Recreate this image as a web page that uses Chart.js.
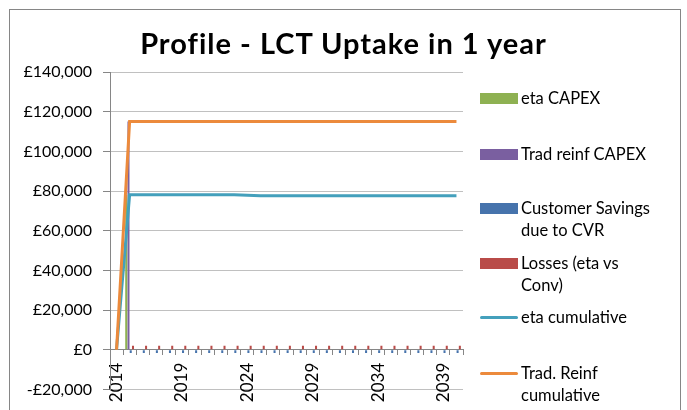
<!DOCTYPE html>
<html><head><meta charset="utf-8">
<script src="https://cdn.jsdelivr.net/npm/chart.js@4.4.1/dist/chart.umd.min.js"></script>
<style>
html,body{margin:0;padding:0;background:#fff;}
#wrap{position:relative;width:687px;height:410px;overflow:hidden;font-family:Lato,"Open Sans",sans-serif;color:#000;}
#frame{position:absolute;left:9px;top:9px;width:672px;height:430px;border:1px solid #868686;box-sizing:border-box;}
#title{position:absolute;left:0;width:687px;top:25px;text-align:center;font-weight:bold;font-size:29px;letter-spacing:1px;line-height:36px;white-space:nowrap;}
#c{position:absolute;left:0;top:0;}
.lg{position:absolute;left:480px;font-size:16.5px;line-height:22px;white-space:nowrap;}
.sw{position:absolute;left:0;width:38px;}
.tx{position:absolute;left:41px;}
</style></head>
<body><div id="wrap">
<div id="frame"></div>
<canvas id="c" width="687" height="410"></canvas>
<div id="title">Profile - LCT Uptake in 1 year</div>
<div id="legend"></div>
</div>
<script>
const years = ['2014','2015','2016','2017','2018','2019','2020','2021','2022','2023','2024','2025','2026','2027','2028','2029','2030','2031','2032','2033','2034','2035','2036','2037','2038','2039','2040'];
const etaCapex   = [0,78100,0,0,0,0,0,0,0,0,0,0,0,0,0,0,0,0,0,0,0,0,0,0,0,0,0];
const tradCapex  = [0,115000,0,0,0,0,0,0,0,0,0,0,0,0,0,0,0,0,0,0,0,0,0,0,0,0,0];
const custSavings= [0,-1600,-1600,-1600,-1600,-1600,-1600,-1600,-1600,-1600,-1600,-1600,-1600,-1600,-1600,-1600,-1600,-1600,-1600,-1600,-1600,-1600,-1600,-1600,-1600,-1600,-1600];
const losses     = [0,2000,2000,2000,2000,2000,2000,2000,2000,2000,2000,2000,2000,2000,2000,2000,2000,2000,2000,2000,2000,2000,2000,2000,2000,2000,2000];
const etaCum     = [0,78100,78100,78100,78100,78100,78100,78100,78100,78100,77850,77600,77600,77600,77600,77600,77600,77600,77600,77600,77600,77600,77600,77600,77600,77600,77600];
const tradCum    = [0,115000,115000,115000,115000,115000,115000,115000,115000,115000,115000,115000,115000,115000,115000,115000,115000,115000,115000,115000,115000,115000,115000,115000,115000,115000,115000];
const yTicks = [-20000,0,20000,40000,60000,80000,100000,120000,140000];
const seriesNames = ['eta CAPEX','Trad reinf CAPEX','Customer Savings due to CVR','Losses (eta vs Conv)','eta cumulative','Trad. Reinf cumulative'];

const C = {green:'#8EB152', purple:'#7A5FA0', blue:'#4673AC', red:'#B94B48', cyan:'#44A0BC', orange:'#EC8A3C'};
const axisCol = '#868686', gridCol = '#C0C0C0';

function fmt(v){ const s = Math.abs(v).toLocaleString('en-GB'); return (v<0?'-£':'£')+s; }

new Chart(document.getElementById('c'), {
  data: {
    labels: years,
    datasets: [
      {type:'line', label:seriesNames[5], data:tradCum, borderColor:C.orange, backgroundColor:C.orange, borderWidth:3, pointRadius:0, order:0},
      {type:'line', label:seriesNames[4], data:etaCum, borderColor:C.cyan, backgroundColor:C.cyan, borderWidth:3, pointRadius:0, order:1},
      {type:'bar', label:seriesNames[0], data:etaCapex, backgroundColor:C.green, borderWidth:0, order:2},
      {type:'bar', label:seriesNames[1], data:tradCapex, backgroundColor:C.purple, borderWidth:0, order:3},
      {type:'bar', label:seriesNames[2], data:custSavings, backgroundColor:C.blue, borderWidth:0, order:4},
      {type:'bar', label:seriesNames[3], data:losses, backgroundColor:C.red, borderWidth:0, order:5}
    ]
  },
  options: {
    responsive:false, animation:false, devicePixelRatio:1,
    datasets:{bar:{barPercentage:0.9, categoryPercentage:0.69}},
    layout:{padding:{left:0, top:72, right:224, bottom:19}},
    plugins:{legend:{display:false}, title:{display:false}, tooltip:{enabled:false}},
    scales:{
      x:{
        position:{y:0},
        offset:true,
        grid:{offset:true, drawOnChartArea:false, drawTicks:true, tickLength:5, color:axisCol},
        border:{display:true, color:axisCol},
        ticks:{autoSkip:false, minRotation:90, maxRotation:90, padding:8, color:'#000',
          font:{family:'Lato', size:17},
          callback:(v,i)=> (i%5===0 ? years[i] : '')},
        afterFit:(s)=>{ s.height = 0; }
      },
      y:{
        min:yTicks[0], max:yTicks[yTicks.length-1],
        afterBuildTicks:(s)=>{ s.ticks = yTicks.map(v=>({value:v})); },
        grid:{color:gridCol, tickColor:axisCol, tickLength:7, drawTicks:true},
        border:{display:true, color:axisCol},
        ticks:{padding:11, color:'#000', font:{family:'Lato', size:16}, callback:(v)=>fmt(v)},
        afterFit:(s)=>{ s.width = 110; }
      }
    }
  }
});

// HTML legend
const legendItems = [
  {name:seriesNames[0], color:C.green, kind:'bar', top:87},
  {name:seriesNames[1], color:C.purple, kind:'bar', top:143},
  {name:seriesNames[2], color:C.blue, kind:'bar', top:197, lines:['Customer Savings','due to CVR']},
  {name:seriesNames[3], color:C.red, kind:'bar', top:252, lines:['Losses (eta vs','Conv)']},
  {name:seriesNames[4], color:C.cyan, kind:'line', top:306},
  {name:seriesNames[5], color:C.orange, kind:'line', top:362, lines:['Trad. Reinf','cumulative']}
];
const lg = document.getElementById('legend');
legendItems.forEach(it=>{
  const d = document.createElement('div'); d.className='lg'; d.style.top = it.top+'px';
  const sw = document.createElement('div'); sw.className='sw';
  sw.style.background = it.color;
  if (it.kind==='bar'){ sw.style.top='6px'; sw.style.height='11px'; }
  else { sw.style.top='10px'; sw.style.height='3px'; sw.style.borderRadius='2px'; }
  d.appendChild(sw);
  const t = document.createElement('div'); t.className='tx';
  t.innerHTML = (it.lines||[it.name]).join('<br>');
  d.appendChild(t);
  lg.appendChild(d);
});
</script>
</body></html>
